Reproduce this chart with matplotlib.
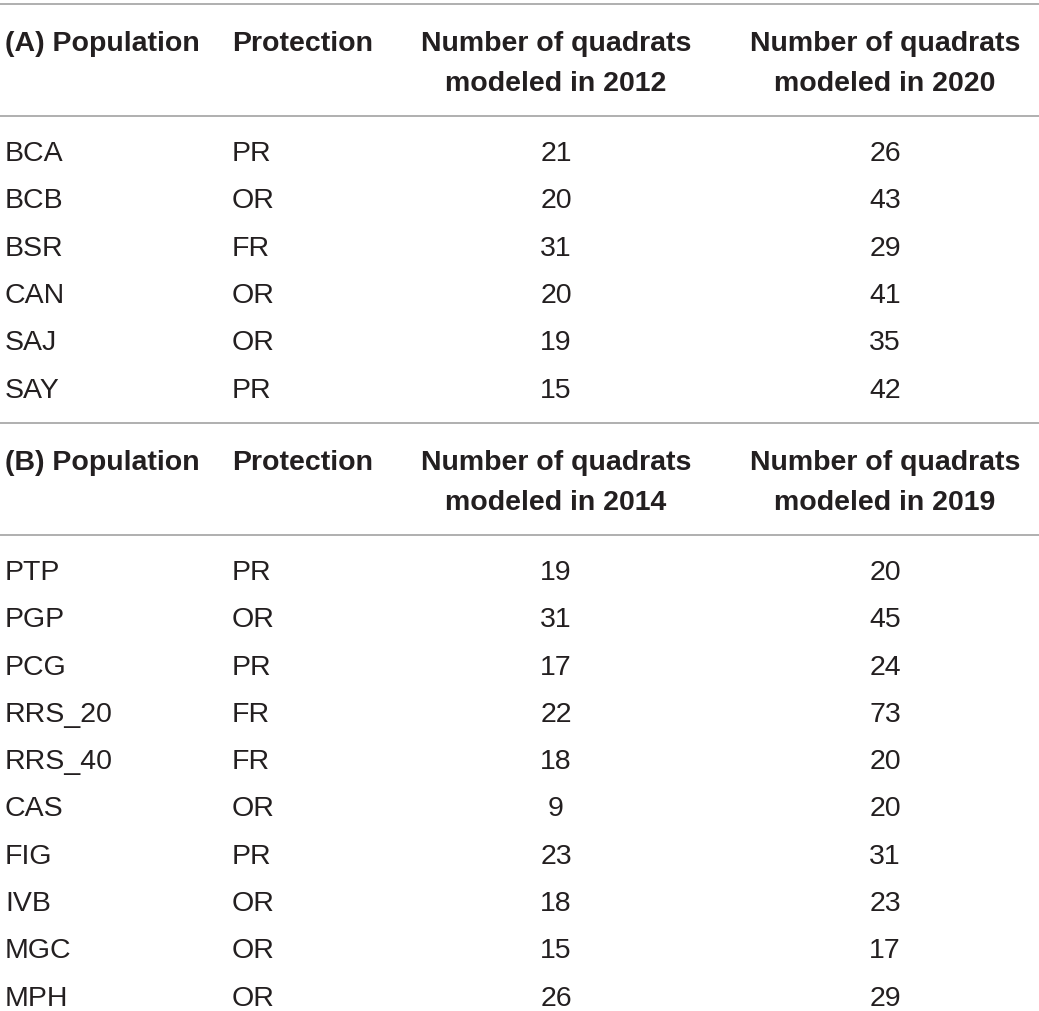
import matplotlib.pyplot as plt

plt.rcParams['font.family'] = ['Liberation Sans', 'DejaVu Sans']
plt.rcParams['font.size'] = 20.5

# Table data
pop_a = ['BCA', 'BCB', 'BSR', 'CAN', 'SAJ', 'SAY']
prot_a = ['PR', 'OR', 'FR', 'OR', 'OR', 'PR']
n_2012 = [21, 20, 31, 20, 19, 15]
n_2020 = [26, 43, 29, 41, 35, 42]

pop_b = ['PTP', 'PGP', 'PCG', 'RRS_20', 'RRS_40', 'CAS', 'FIG', 'IVB', 'MGC', 'MPH']
prot_b = ['PR', 'OR', 'PR', 'FR', 'FR', 'OR', 'PR', 'OR', 'OR', 'OR']
n_2014 = [19, 31, 17, 22, 18, 9, 23, 18, 15, 26]
n_2019 = [20, 45, 24, 73, 20, 20, 31, 23, 17, 29]

W, H = 1039, 1012
fig = plt.figure(figsize=(W / 100, H / 100), dpi=100)
ax = fig.add_axes([0, 0, 1, 1])
ax.set_xlim(0, W)
ax.set_ylim(H, 0)
ax.axis('off')

line_col = '#9a9a9a'
x_pop, x_prot, x_c3, x_c4 = 5, 232, 556, 885
row_h = 47.3


def hline(y):
    ax.plot([0, W], [y, y], color=line_col, lw=1.1, solid_capstyle='butt')


def block(y_top, label, years, pops, prots, c3, c4):
    hline(y_top)
    y1 = y_top + 39
    y2 = y_top + 79
    kw = dict(fontweight='bold', va='center', color='#231f20')
    ax.text(x_pop, y1, f'({label}) Population', ha='left', **kw)
    ax.text(x_prot, y1, 'Protection', ha='left', **kw)
    ax.text(x_c3, y1, 'Number of quadrats', ha='center', **kw)
    ax.text(x_c3, y2, f'modeled in {years[0]}', ha='center', **kw)
    ax.text(x_c4, y1, 'Number of quadrats', ha='center', **kw)
    ax.text(x_c4, y2, f'modeled in {years[1]}', ha='center', **kw)
    y_sep = y_top + 112
    hline(y_sep)
    for i, (p, pr, a, b) in enumerate(zip(pops, prots, c3, c4)):
        y = y_sep + 37 + i * row_h
        kw2 = dict(va='center', color='#231f20')
        ax.text(x_pop, y, p, ha='left', **kw2)
        ax.text(x_prot, y, pr, ha='left', **kw2)
        ax.text(x_c3, y, str(a), ha='center', **kw2)
        ax.text(x_c4, y, str(b), ha='center', **kw2)


block(5, 'A', (2012, 2020), pop_a, prot_a, n_2012, n_2020)
block(424, 'B', (2014, 2019), pop_b, prot_b, n_2014, n_2019)

fig.savefig('out.png', dpi=100, facecolor='white')
